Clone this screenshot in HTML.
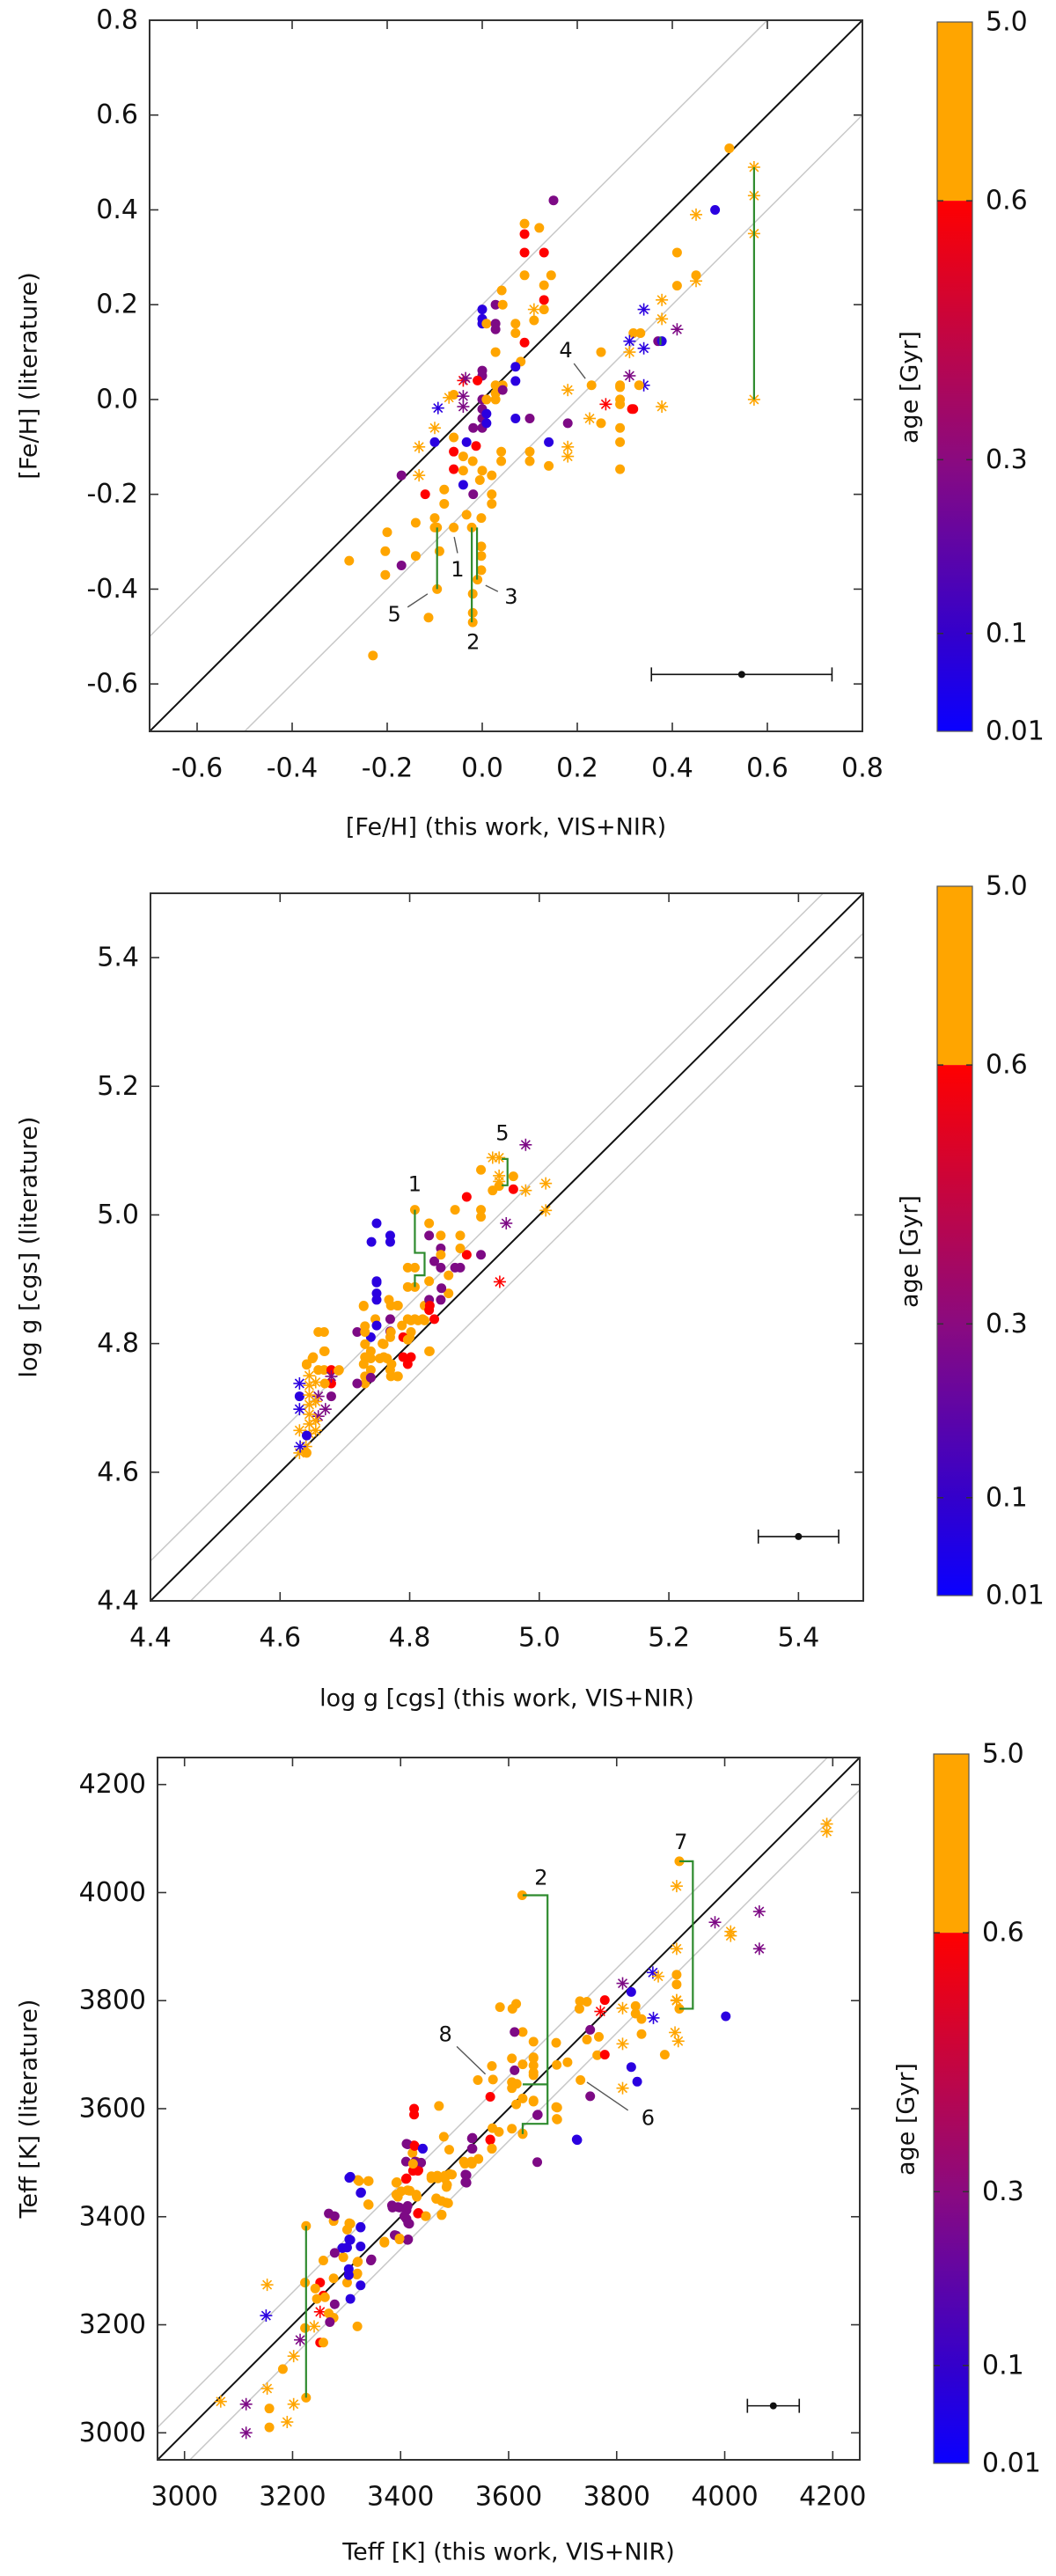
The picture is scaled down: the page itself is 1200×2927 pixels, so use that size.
<!DOCTYPE html>
<html><head><meta charset="utf-8">
<style>
html,body{margin:0;padding:0;background:#fff;}
svg{display:block;font-family:"DejaVu Sans","Liberation Sans",sans-serif;}
</style></head>
<body>
<svg id="fig" width="1200" height="2927" viewBox="0 0 1200 2927" xmlns="http://www.w3.org/2000/svg">
<defs>
<linearGradient id="cbgrad" x1="0" y1="0" x2="0" y2="1">
<stop offset="0" stop-color="#ff0000"/>
<stop offset="0.49" stop-color="#8a0a80"/>
<stop offset="0.82" stop-color="#3300cc"/>
<stop offset="1" stop-color="#0a00ff"/>
</linearGradient>
</defs>
</svg>
<script>
// ---------- DATA ----------
// point format: [x, y, ageClass(o=old,r,p,b=young), marker(c=dot,s=asterisk)]
const fehPoints = [
[0.15,0.42,'p','c'],[0.089,0.371,'o','c'],[0.12,0.362,'o','c'],[0.089,0.349,'r','c'],[0.089,0.31,'r','c'],[0.13,0.31,'r','c'],
[0.089,0.262,'o','c'],[0.145,0.262,'o','c'],[0.13,0.241,'o','c'],[0.13,0.21,'r','c'],[0.109,0.19,'o','s'],[0.13,0.19,'o','c'],
[0.109,0.167,'o','c'],[0.041,0.23,'o','c'],[0.028,0.2,'p','c'],[0.043,0.2,'o','c'],[0.0,0.19,'b','c'],[0.0,0.17,'b','c'],
[0.0,0.16,'b','c'],[0.009,0.16,'o','c'],[0.028,0.16,'p','c'],[0.028,0.148,'p','c'],[0.07,0.16,'o','c'],[0.07,0.14,'o','c'],
[0.089,0.12,'r','c'],[0.028,0.1,'o','c'],[0.081,0.08,'o','c'],[0.07,0.069,'b','c'],[0.07,0.039,'b','c'],[0.0,0.061,'p','c'],
[0.0,0.05,'p','c'],[-0.04,0.04,'r','s'],[-0.035,0.045,'p','s'],[-0.01,0.04,'r','c'],[0.028,0.03,'o','c'],[0.043,0.03,'o','c'],
[0.028,0.013,'o','c'],[0.028,0.0,'o','c'],[0.043,0.02,'p','c'],[-0.07,0.004,'o','s'],[-0.06,0.01,'o','c'],[-0.04,0.007,'p','s'],
[-0.04,-0.015,'p','s'],[-0.093,-0.018,'b','s'],[0.0,0.0,'p','c'],[0.0,-0.02,'p','c'],[0.0,-0.04,'p','c'],[0.0,-0.06,'p','c'],
[0.009,-0.03,'b','c'],[0.009,-0.05,'b','c'],[-0.019,-0.06,'p','c'],[0.009,0.0,'o','c'],[0.07,-0.04,'b','c'],[0.1,-0.04,'p','c'],
[-0.1,-0.06,'o','s'],[0.23,0.03,'o','c'],[0.25,0.1,'o','c'],[0.18,0.02,'o','s'],[0.18,-0.05,'p','c'],[0.226,-0.04,'o','s'],
[0.25,-0.05,'o','c'],[0.26,-0.01,'r','s'],[0.29,0.03,'o','c'],[0.29,0.0,'o','c'],[0.29,-0.01,'o','c'],[0.29,-0.06,'o','c'],
[0.315,-0.02,'r','c'],[0.52,0.53,'o','c'],[0.572,0.49,'o','s'],[0.572,0.43,'o','s'],[0.572,0.35,'o','s'],[0.572,0.0,'o','s'],
[0.45,0.39,'o','s'],[0.49,0.40,'b','c'],[0.41,0.31,'o','c'],[0.45,0.262,'o','c'],[0.41,0.24,'o','c'],[0.45,0.25,'o','s'],
[0.378,0.21,'o','s'],[0.378,0.17,'o','s'],[0.34,0.19,'b','s'],[0.41,0.148,'p','s'],[0.318,0.14,'o','c'],[0.333,0.14,'o','c'],
[0.37,0.123,'p','c'],[0.378,0.123,'b','c'],[0.31,0.123,'b','s'],[0.34,0.108,'b','s'],[0.31,0.1,'o','s'],[0.31,0.05,'p','s'],
[0.34,0.03,'b','s'],[0.29,0.026,'o','c'],[0.33,0.03,'o','c'],[0.378,-0.015,'o','s'],[0.318,-0.02,'r','c'],
[-0.1,-0.09,'b','c'],[-0.033,-0.09,'b','c'],[-0.013,-0.098,'r','c'],[-0.133,-0.1,'o','s'],[-0.133,-0.16,'o','s'],
[-0.06,-0.11,'r','c'],[-0.06,-0.147,'r','c'],[0.04,-0.11,'o','c'],[0.04,-0.13,'o','c'],[0.1,-0.11,'o','c'],[0.1,-0.13,'o','c'],
[0.14,-0.14,'o','c'],[0.29,-0.09,'o','c'],[0.29,-0.147,'o','c'],[0.18,-0.1,'o','s'],[0.18,-0.12,'o','s'],[0.14,-0.09,'b','c'],
[-0.17,-0.16,'p','c'],[-0.12,-0.2,'r','c'],[-0.08,-0.19,'o','c'],[-0.08,-0.22,'o','c'],[-0.04,-0.18,'b','c'],[-0.019,-0.2,'p','c'],
[-0.04,-0.15,'o','c'],[-0.02,-0.13,'o','c'],[0.0,-0.15,'o','c'],[-0.005,-0.17,'o','c'],[0.02,-0.16,'o','c'],[0.02,-0.2,'o','c'],
[0.02,-0.22,'o','c'],[-0.04,-0.12,'o','c'],[-0.06,-0.08,'o','c'],[-0.1,-0.25,'o','c'],[-0.1,-0.27,'o','c'],[-0.14,-0.26,'o','c'],
[-0.06,-0.27,'o','c'],[-0.033,-0.243,'o','c'],[-0.002,-0.25,'o','c'],[-0.2,-0.28,'o','c'],[-0.204,-0.32,'o','c'],[-0.28,-0.34,'o','c'],
[-0.17,-0.35,'p','c'],[-0.204,-0.37,'o','c'],[-0.14,-0.33,'o','c'],[-0.09,-0.32,'o','c'],[-0.095,-0.27,'o','c'],[-0.095,-0.40,'o','c'],
[-0.113,-0.46,'o','c'],[-0.022,-0.27,'o','c'],[-0.02,-0.41,'o','c'],[-0.02,-0.45,'o','c'],[-0.02,-0.47,'o','c'],[-0.002,-0.31,'o','c'],
[-0.002,-0.33,'o','c'],[-0.002,-0.36,'o','c'],[-0.01,-0.38,'o','c'],[-0.23,-0.54,'o','c']
];
const fehBrackets = [
[[-0.095,-0.27],[-0.095,-0.40]],
[[-0.022,-0.27],[-0.022,-0.47]],
[[-0.011,-0.27],[-0.011,-0.38]],
[[0.572,0.49],[0.572,0.0]],
[[0.375,0.115],[0.375,0.132]]
];
const fehLabels = [['1',-0.052,-0.358],['2',-0.019,-0.512],['3',0.061,-0.416],['4',0.176,0.104],['5',-0.185,-0.453]];
const fehLeaders = [
[[-0.059,-0.29],[-0.052,-0.324]],[[0.007,-0.392],[0.033,-0.405]],[[0.193,0.076],[0.217,0.044]],[[-0.157,-0.438],[-0.115,-0.41]]
];
const fehTicks = [-0.6,-0.4,-0.2,0.0,0.2,0.4,0.6,0.8];
const fehError = [0.546,-0.58,0.19];

const loggPoints = [
[4.979,5.109,'p','s'],[4.928,5.089,'o','s'],[4.938,5.089,'o','s'],[4.938,5.061,'o','s'],[4.938,5.052,'o','s'],[4.91,5.07,'o','c'],
[4.96,5.06,'o','c'],[4.928,5.038,'o','c'],[4.938,5.045,'o','c'],[4.96,5.04,'r','c'],[4.979,5.038,'o','s'],[5.01,5.049,'o','s'],
[5.01,5.007,'o','s'],[4.949,4.987,'p','s'],[4.939,4.896,'r','s'],[4.888,5.028,'r','c'],[4.87,5.008,'o','c'],[4.91,5.008,'o','c'],
[4.91,4.997,'o','c'],[4.808,5.008,'o','c'],[4.797,4.918,'o','c'],[4.808,4.918,'o','c'],[4.797,4.888,'o','c'],[4.808,4.888,'o','c'],
[4.749,4.987,'b','c'],[4.741,4.958,'b','c'],[4.77,4.968,'b','c'],[4.77,4.958,'b','c'],[4.83,4.987,'o','c'],[4.83,4.968,'p','c'],
[4.848,4.968,'o','c'],[4.878,4.968,'o','c'],[4.848,4.948,'p','c'],[4.848,4.918,'p','c'],[4.838,4.928,'p','c'],[4.87,4.918,'p','c'],
[4.878,4.918,'p','c'],[4.888,4.938,'r','c'],[4.91,4.938,'p','c'],[4.848,4.938,'o','c'],[4.86,4.906,'o','c'],[4.878,4.948,'o','c'],
[4.749,4.897,'b','c'],[4.749,4.878,'b','c'],[4.749,4.868,'b','c'],[4.83,4.897,'o','c'],[4.86,4.878,'o','c'],[4.823,4.859,'o','c'],
[4.83,4.868,'p','c'],[4.848,4.868,'p','c'],[4.83,4.852,'r','c'],[4.838,4.838,'r','c'],[4.768,4.868,'o','c'],[4.781,4.859,'o','c'],
[4.729,4.858,'o','c'],[4.747,4.838,'o','c'],[4.797,4.838,'o','c'],[4.808,4.838,'o','c'],[4.82,4.838,'o','c'],[4.788,4.828,'o','c'],
[4.77,4.81,'o','c'],[4.8,4.81,'o','c'],[4.758,4.8,'o','c'],[4.83,4.788,'o','c'],[4.749,4.828,'b','c'],[4.74,4.81,'b','c'],
[4.77,4.838,'p','c'],[4.77,4.819,'p','c'],[4.719,4.818,'p','c'],[4.79,4.81,'r','c'],[4.731,4.827,'o','c'],[4.731,4.818,'o','c'],
[4.731,4.799,'o','c'],[4.731,4.779,'o','c'],[4.74,4.777,'o','c'],[4.754,4.777,'o','c'],[4.765,4.777,'o','c'],[4.772,4.768,'o','c'],
[4.79,4.779,'r','c'],[4.797,4.768,'r','c'],[4.729,4.768,'o','c'],[4.74,4.759,'o','c'],[4.77,4.759,'o','c'],[4.781,4.749,'o','c'],
[4.731,4.749,'o','c'],[4.731,4.738,'o','c'],[4.719,4.738,'p','c'],[4.74,4.747,'p','c'],[4.668,4.818,'o','c'],[4.668,4.788,'o','c'],
[4.641,4.768,'o','c'],[4.65,4.777,'o','c'],[4.659,4.759,'o','c'],[4.668,4.759,'o','c'],[4.691,4.759,'o','c'],[4.679,4.759,'r','c'],
[4.679,4.738,'r','c'],[4.679,4.749,'p','s'],[4.63,4.738,'b','s'],[4.63,4.718,'b','c'],[4.679,4.718,'p','c'],[4.659,4.718,'p','s'],
[4.67,4.698,'p','s'],[4.659,4.687,'p','s'],[4.63,4.698,'b','s'],
[4.645,4.75,'o','s'],[4.645,4.735,'o','s'],[4.645,4.72,'o','s'],[4.645,4.705,'o','s'],[4.645,4.69,'o','s'],[4.645,4.675,'o','s'],
[4.645,4.66,'o','s'],[4.655,4.74,'o','s'],[4.655,4.71,'o','s'],[4.655,4.68,'o','s'],[4.655,4.665,'o','s'],[4.63,4.665,'o','s'],
[4.64,4.64,'o','s'],[4.63,4.63,'o','s'],[4.641,4.657,'b','c'],[4.631,4.64,'b','s'],[4.641,4.63,'o','c'],
[4.659,4.818,'o','c'],[4.651,4.779,'o','c'],[4.669,4.788,'o','c'],[4.641,4.767,'o','c'],[4.69,4.758,'o','c'],[4.669,4.738,'o','c'],
[4.729,4.859,'o','c'],[4.74,4.788,'o','c'],[4.76,4.779,'o','c'],[4.771,4.749,'o','c'],[4.782,4.749,'o','c'],[4.76,4.799,'o','c'],
[4.771,4.818,'o','c'],[4.771,4.859,'o','c'],[4.782,4.859,'o','c'],[4.802,4.836,'o','c'],[4.813,4.836,'o','c'],[4.823,4.836,'o','c'],
[4.797,4.806,'o','c'],[4.802,4.818,'o','c'],[4.831,4.788,'o','c'],[4.849,4.886,'p','c'],[4.749,4.895,'b','c'],[4.802,4.779,'r','c'],
[4.831,4.859,'r','c']
];
const loggBrackets = [
[[4.808,5.008],[4.808,4.941],[4.823,4.941],[4.823,4.906],[4.808,4.906],[4.808,4.888]],
[[4.942,5.087],[4.951,5.087],[4.951,5.046],[4.942,5.046]]
];
const loggLabels = [['1',4.808,5.048],['5',4.943,5.127]];
const loggLeaders = [];
const loggTicks = [4.4,4.6,4.8,5.0,5.2,5.4];
const loggError = [5.4,4.5,0.062];

const teffPoints = [
[3584,3788,'o','c'],[3607,3785,'o','c'],[3614,3794,'o','c'],[3626,3742,'o','c'],[3646,3724,'o','c'],[3606,3693,'o','c'],
[3626,3682,'o','c'],[3646,3693,'o','c'],[3646,3680,'o','c'],[3646,3662,'o','c'],[3569,3679,'o','c'],[3571,3654,'o','c'],
[3543,3653,'o','c'],[3606,3649,'o','c'],[3615,3646,'o','c'],[3606,3638,'o','c'],[3626,3619,'o','c'],[3614,3608,'o','c'],
[3646,3615,'o','c'],[3688,3722,'o','c'],[3689,3681,'o','c'],[3709,3686,'o','c'],[3688,3603,'o','c'],[3689,3581,'o','c'],
[3570,3564,'o','c'],[3582,3557,'o','c'],[3606,3563,'o','c'],[3626,3554,'o','c'],[3569,3526,'o','c'],[3480,3548,'o','c'],
[3490,3524,'o','c'],[3517,3502,'o','c'],[3531,3502,'o','c'],[3544,3507,'o','c'],[3457,3475,'o','c'],[3468,3476,'o','c'],
[3482,3476,'o','c'],[3495,3478,'o','c'],[3486,3459,'o','c'],[3466,3434,'o','c'],[3476,3429,'o','c'],[3485,3426,'o','c'],
[3476,3404,'o','c'],[3446,3401,'o','c'],[3393,3464,'o','c'],[3395,3437,'o','c'],[3417,3448,'o','c'],[3430,3437,'o','c'],
[3422,3518,'o','c'],[3429,3502,'o','c'],[3471,3605,'o','c'],[3340,3466,'o','c'],[3321,3468,'o','c'],[3340,3423,'o','c'],
[3305,3388,'o','c'],[3294,3325,'o','c'],[3321,3317,'o','c'],[3319,3293,'o','c'],[3370,3354,'o','c'],[3398,3358,'o','c'],
[3732,3799,'o','c'],[3745,3798,'o','c'],[3731,3785,'o','c'],[3745,3728,'o','c'],[3767,3733,'o','c'],[3764,3699,'o','c'],
[3846,3738,'o','c'],[3889,3700,'o','c'],[3835,3790,'o','c'],[3835,3776,'o','c'],[3846,3766,'o','c'],[3733,3653,'o','c'],
[3611,3742,'p','c'],[3611,3671,'p','c'],[3653,3588,'p','c'],[3653,3501,'p','c'],[3533,3546,'p','c'],[3533,3526,'p','c'],
[3520,3478,'p','c'],[3520,3464,'p','c'],[3411,3535,'p','c'],[3410,3502,'p','c'],[3427,3502,'p','c'],[3384,3421,'p','c'],
[3395,3418,'p','c'],[3411,3412,'p','c'],[3411,3396,'p','c'],[3414,3388,'p','c'],[3389,3366,'p','c'],[3414,3358,'p','c'],
[3346,3321,'p','c'],[3751,3746,'p','c'],[3751,3623,'p','c'],
[3566,3622,'r','c'],[3566,3543,'r','c'],[3425,3600,'r','c'],[3425,3589,'r','c'],[3425,3532,'r','c'],[3433,3486,'r','c'],
[3411,3471,'r','c'],[3433,3407,'r','c'],[3778,3801,'r','c'],[3778,3700,'r','c'],
[3441,3526,'b','c'],[3305,3472,'b','c'],[3327,3445,'b','c'],[3326,3381,'b','c'],[3305,3358,'b','c'],[3292,3342,'b','c'],
[3827,3816,'b','c'],[3827,3677,'b','c'],[3838,3650,'b','c'],[3726,3543,'b','c'],
[3770,3780,'r','s'],[3811,3786,'o','s'],[3811,3720,'o','s'],[3811,3638,'o','s'],[3911,3801,'o','s'],[3908,3741,'o','s'],
[3914,3725,'o','s'],[3868,3768,'b','s'],[3811,3832,'p','s'],
[4189,4127,'o','s'],[4189,4113,'o','s'],[3916,4058,'o','c'],[3911,4012,'o','s'],[4064,3965,'p','s'],[3982,3945,'p','s'],
[4011,3928,'o','s'],[4011,3920,'o','s'],[4064,3896,'p','s'],[3911,3896,'o','s'],[3867,3852,'b','s'],[3877,3845,'o','s'],
[3911,3848,'o','c'],[3911,3830,'o','c'],[3916,3785,'o','c'],[3911,3800,'o','s'],[4002,3771,'b','c'],[3646,3695,'o','c'],
[3646,3667,'o','c'],[3646,3613,'o','c'],[3690,3602,'o','c'],[3690,3580,'o','c'],[3654,3589,'p','c'],[3727,3542,'b','c'],
[3625,3995,'o','c'],[3626,3553,'o','c'],
[3067,3058,'o','s'],[3114,3053,'p','s'],[3114,3000,'p','s'],[3157,3045,'o','c'],[3157,3010,'o','c'],[3153,3082,'o','s'],
[3190,3020,'o','s'],[3202,3053,'o','s'],[3182,3118,'o','c'],[3202,3142,'o','s'],[3214,3172,'p','s'],[3225,3383,'o','c'],
[3225,3065,'o','c'],[3153,3274,'o','s'],[3151,3217,'b','s'],[3223,3278,'o','c'],[3240,3197,'o','s'],[3251,3224,'r','s'],
[3251,3278,'r','c'],[3251,3167,'r','c'],[3257,3254,'r','c'],[3257,3167,'o','c'],[3223,3194,'o','c'],[3242,3267,'o','c'],
[3245,3248,'o','c'],[3260,3251,'o','c'],[3257,3319,'o','c'],[3276,3286,'o','c'],[3276,3392,'o','c'],[3301,3376,'o','c'],
[3307,3387,'o','c'],[3320,3316,'o','c'],[3320,3295,'o','c'],[3320,3197,'o','c'],[3301,3278,'o','c'],[3276,3213,'o','c'],
[3267,3221,'o','c'],[3267,3406,'p','c'],[3278,3401,'p','c'],[3269,3205,'p','c'],[3278,3238,'p','c'],[3278,3333,'p','c'],
[3345,3319,'p','c'],[3307,3474,'b','c'],[3326,3444,'b','c'],[3326,3380,'b','c'],[3301,3343,'b','c'],[3307,3357,'b','c'],
[3326,3345,'b','c'],[3304,3303,'b','c'],[3304,3292,'b','c'],[3326,3273,'b','c'],[3307,3248,'b','c'],[3323,3466,'o','c'],
[3341,3466,'o','c'],[3341,3422,'o','c'],[3385,3417,'p','c'],[3398,3417,'p','c'],[3413,3420,'p','c'],[3407,3401,'p','c'],
[3416,3387,'p','c'],[3392,3365,'p','c'],[3413,3357,'p','c'],[3413,3534,'p','c'],[3438,3500,'p','c'],[3522,3477,'p','c'],
[3522,3463,'p','c'],[3532,3545,'p','c'],[3532,3526,'p','c'],[3410,3470,'r','c'],[3426,3531,'r','c'],[3432,3485,'r','c'],
[3423,3485,'r','c'],[3432,3406,'r','c'],[3566,3542,'r','c'],[3370,3352,'o','c'],[3398,3360,'o','c'],[3392,3463,'o','c'],
[3392,3441,'o','c'],[3401,3447,'o','c'],[3423,3498,'o','c'],[3413,3449,'o','c'],[3429,3441,'o','c'],[3447,3401,'o','c'],
[3457,3471,'o','c'],[3469,3471,'o','c'],[3482,3471,'o','c'],[3491,3479,'o','c'],[3466,3433,'o','c'],[3476,3403,'o','c'],
[3485,3455,'o','c'],[3488,3425,'o','c'],[3519,3498,'o','c'],[3532,3498,'o','c'],[3544,3507,'o','c'],[3569,3526,'o','c'],
[3441,3526,'b','c']
];
const teffBrackets = [
[[3626,3995],[3672,3995],[3672,3572],[3626,3572],[3626,3553]],
[[3626,3645],[3672,3645]],
[[3916,4058],[3941,4058],[3941,3785],[3916,3785]],
[[3225,3383],[3225,3065]]
];
const teffLabels = [['2',3660,4028],['7',3919,4094],['8',3483,3738],['6',3858,3583]];
const teffLeaders = [[[3504,3715],[3557,3664]],[[3745,3649],[3821,3597]]];
const teffTicks = [3000,3200,3400,3600,3800,4000,4200];
const teffError = [4090,3050,48];

const ageTickLabels = ['5.0','0.6','0.3','0.1','0.01'];
const ageTickFrac = [0,0.252,0.617,0.862,1];

// ---------- DRAWING ----------
const NS='http://www.w3.org/2000/svg';
const svg=document.getElementById('fig');
const COL={o:'#ffa500',r:'#ff0000',p:'#7d0a85',b:'#2a00e0'};
function mk(tag,attrs,parent){const e=document.createElementNS(NS,tag);for(const k in attrs)e.setAttribute(k,attrs[k]);(parent||svg).appendChild(e);return e;}

function panel(id,cfg,points,brackets,labels,leaders,ticks,err){
  const g=mk('g',{});
  
  
  const sx=v=>cfg.L+(v-cfg.min)/(cfg.max-cfg.min)*(cfg.R-cfg.L);
  const sy=v=>cfg.B-(v-cfg.min)/(cfg.max-cfg.min)*(cfg.B-cfg.T);
  const cp=mk('clipPath',{id:'clip-'+id},g);
  mk('rect',{x:cfg.L,y:cfg.T,width:cfg.R-cfg.L,height:cfg.B-cfg.T},cp);
  const plot=mk('g',{'clip-path':'url(#clip-'+id+')'},g);
  
  
  // reference lines
  [cfg.off,-cfg.off].forEach(o=>{
    const l=mk('line',{x1:sx(cfg.min),y1:sy(cfg.min+o),x2:sx(cfg.max),y2:sy(cfg.max+o),stroke:'#c8c8c8','stroke-width':1.5},plot);
    
    
  });
  const d=mk('line',{x1:sx(cfg.min),y1:sy(cfg.min),x2:sx(cfg.max),y2:sy(cfg.max),stroke:'#111','stroke-width':2},plot);
  
  
  // points
  points.forEach(p=>{
    const cx=sx(p[0]),cy=sy(p[1]),c=COL[p[2]];
    if(p[3]==='c'){
      const e=mk('circle',{cx:cx,cy:cy,r:5.5,fill:c},plot);
      
      
    }else{
      const s=mk('g',{stroke:c,'stroke-width':1.6},plot);
      
      
      const r=7;
      for(let a=0;a<4;a++){const t=a*Math.PI/4;mk('line',{x1:cx-r*Math.cos(t),y1:cy-r*Math.sin(t),x2:cx+r*Math.cos(t),y2:cy+r*Math.sin(t)},s);}
    }
  });
  // brackets
  brackets.forEach(b=>{
    const e=mk('polyline',{points:b.map(q=>sx(q[0])+','+sy(q[1])).join(' '),fill:'none',stroke:'#2e8b2e','stroke-width':2.2},plot);
    
    
  });
  leaders.forEach(b=>{
    const e=mk('line',{x1:sx(b[0][0]),y1:sy(b[0][1]),x2:sx(b[1][0]),y2:sy(b[1][1]),stroke:'#555','stroke-width':1.4},plot);
    
    
  });
  labels.forEach(lb=>{
    const t=mk('text',{x:sx(lb[1]),y:sy(lb[2]),'font-size':24,'text-anchor':'middle','dominant-baseline':'central',fill:'#111'},g);
    t.textContent=lb[0];
    
    
  });
  // error bar
  const eb=mk('g',{stroke:'#111','stroke-width':1.6},g);
  
  
  const ex=sx(err[0]),ey=sy(err[1]),e1=sx(err[0]-err[2]),e2=sx(err[0]+err[2]);
  mk('line',{x1:e1,y1:ey,x2:e2,y2:ey},eb);
  mk('line',{x1:e1,y1:ey-8,x2:e1,y2:ey+8},eb);
  mk('line',{x1:e2,y1:ey-8,x2:e2,y2:ey+8},eb);
  mk('circle',{cx:ex,cy:ey,r:4,fill:'#111',stroke:'none'},eb);
  // frame
  const fr=mk('rect',{x:cfg.L,y:cfg.T,width:cfg.R-cfg.L,height:cfg.B-cfg.T,fill:'none',stroke:'#333','stroke-width':2},g);
  
  
  // ticks
  ticks.forEach(v=>{
    const X=sx(v),Y=sy(v);
    mk('line',{x1:X,y1:cfg.B,x2:X,y2:cfg.B-10,stroke:'#333','stroke-width':1.6},g);
    mk('line',{x1:X,y1:cfg.T,x2:X,y2:cfg.T+10,stroke:'#333','stroke-width':1.6},g);
    mk('line',{x1:cfg.L,y1:Y,x2:cfg.L+10,y2:Y,stroke:'#333','stroke-width':1.6},g);
    mk('line',{x1:cfg.R,y1:Y,x2:cfg.R-10,y2:Y,stroke:'#333','stroke-width':1.6},g);
    const tx=mk('text',{x:X,y:cfg.B+42,'font-size':30,'text-anchor':'middle','dominant-baseline':'central',fill:'#111'},g);
    tx.textContent=cfg.fmt(v);
    
    
    const ty=mk('text',{x:cfg.L-13,y:Y,'font-size':30,'text-anchor':'end','dominant-baseline':'central',fill:'#111'},g);
    ty.textContent=cfg.fmt(v);
    
    
  });
  const xt=mk('text',{x:(cfg.L+cfg.R)/2,y:cfg.xtY,'font-size':27,'text-anchor':'middle','dominant-baseline':'central',fill:'#111'},g);
  xt.textContent=cfg.xtitle;
  
  
  const yc=(cfg.T+cfg.B)/2;
  const yt=mk('text',{x:33,y:yc,'font-size':27,'text-anchor':'middle','dominant-baseline':'central',fill:'#111',transform:'rotate(-90 33 '+yc+')'},g);
  yt.textContent=cfg.ytitle;
  
  
  // colorbar
  const cb=mk('g',{},g);
  
  
  const H=cfg.cbB-cfg.cbT, split=cfg.cbT+H*ageTickFrac[1];
  mk('rect',{x:cfg.cbL,y:cfg.cbT,width:cfg.cbR-cfg.cbL,height:split-cfg.cbT,fill:'#ffa500'},cb);
  mk('rect',{x:cfg.cbL,y:split,width:cfg.cbR-cfg.cbL,height:cfg.cbB-split,fill:'url(#cbgrad)'},cb);
  mk('rect',{x:cfg.cbL,y:cfg.cbT,width:cfg.cbR-cfg.cbL,height:H,fill:'none',stroke:'#555','stroke-width':1.2},cb);
  ageTickLabels.forEach((lab,i)=>{
    const y=cfg.cbT+H*ageTickFrac[i];
    if(i>0&&i<4){mk('line',{x1:cfg.cbL,y1:y,x2:cfg.cbL+7,y2:y,stroke:'#333','stroke-width':1.5},cb);mk('line',{x1:cfg.cbR-7,y1:y,x2:cfg.cbR,y2:y,stroke:'#333','stroke-width':1.5},cb);}
    const t=mk('text',{x:cfg.cbR+15,y:y,'font-size':30,'dominant-baseline':'central',fill:'#111'},cb);
    t.textContent=lab;
    
    
  });
  const ly=cfg.cbT+415, lx=cfg.cbL-31;
  const at=mk('text',{x:lx,y:ly,'font-size':27,'text-anchor':'middle','dominant-baseline':'central',fill:'#111',transform:'rotate(-90 '+lx+' '+ly+')'},cb);
  at.textContent='age [Gyr]';
  
  
}

panel('feh',{L:170,R:980,T:23,B:831,min:-0.7,max:0.8,off:0.2,fmt:v=>v.toFixed(1),xtY:940,
  xtitle:'[Fe/H] (this work, VIS+NIR)',ytitle:'[Fe/H] (literature)',cbL:1065,cbR:1105,cbT:25,cbB:831},
  fehPoints,fehBrackets,fehLabels,fehLeaders,fehTicks,fehError);
panel('logg',{L:171,R:981,T:1015,B:1819,min:4.4,max:5.5,off:0.062,fmt:v=>v.toFixed(1),xtY:1930,
  xtitle:'log g [cgs] (this work, VIS+NIR)',ytitle:'log g [cgs] (literature)',cbL:1065,cbR:1105,cbT:1007,cbB:1813},
  loggPoints,loggBrackets,loggLabels,loggLeaders,loggTicks,loggError);
panel('teff',{L:179,R:977,T:1997,B:2795,min:2950,max:4250,off:60,fmt:v=>String(v),xtY:2900,
  xtitle:'Teff [K] (this work, VIS+NIR)',ytitle:'Teff [K] (literature)',cbL:1061,cbR:1101,cbT:1993,cbB:2799},
  teffPoints,teffBrackets,teffLabels,teffLeaders,teffTicks,teffError);
</script>
</body></html>
